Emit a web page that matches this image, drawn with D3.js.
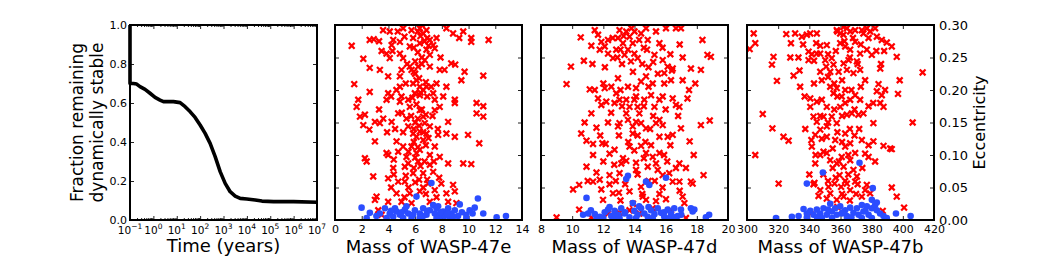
<!doctype html>
<html>
<head>
<meta charset="utf-8"/>
<title>WASP-47 stability</title>
<script src="https://d3js.org/d3.v7.min.js"></script>
<style>
body { margin: 0; background: #fff; }
text { font-family: 'DejaVu Sans', sans-serif; fill: #000; }
</style>
</head>
<body>
<svg id="chart"></svg>
<script>
// ---- data ----
const timeYears = [0.1, 0.1, 0.139, 0.193, 0.268, 0.44, 0.72, 1.18, 1.93, 2.7, 7.2, 13.9, 22.8, 37, 61, 100,
    164, 268, 440, 720, 1180, 1930, 3160, 5180, 1e4, 22800, 44000, 1.4e5, 1e6, 1e7]
const fractionStable = [1.0, 0.70, 0.70, 0.697, 0.684, 0.67, 0.65, 0.629, 0.615, 0.607, 0.607, 0.602, 0.581,
    0.556, 0.526, 0.487, 0.444, 0.393, 0.325, 0.248, 0.188, 0.145, 0.123, 0.111, 0.108, 0.103, 0.097, 0.094, 0.094, 0.091]

const timeTicks = [-1, 0, 1, 2, 3, 4, 5, 6, 7]   // exponents
const fractionTicks = [0, 0.2, 0.4, 0.6, 0.8, 1.0]
const eccTicks = [0, 0.05, 0.10, 0.15, 0.20, 0.25, 0.30]

// [mass, eccentricity]; unstable = red x, stable = blue dots
const eUnstable = [[1.25,.268],[2.12,.248],[2.6,.234],[2.6,.277],[2.9,.278],[3.6,.292],[4.1,.29],[4.36,.277],[3.49,.26],
    [3.86,.256],[4.24,.269],[4.86,.274],[5.1,.295],[5.2,.282],[5.73,.292],[5.85,.28],[6.35,.295],[6.6,.287],[6.85,.292],
    [7.1,.277],[7.35,.269],[6.35,.272],[6.85,.262],[7.1,.254],[6.72,.246],[7.1,.236],[7.47,.264],[5.6,.267],[4.86,.256],
    [5.1,.249],[4.1,.249],[8.34,.295],[8.84,.287],[9.3,.28],[9.6,.29],[10.2,.28],[10.2,.274],[11.5,.277],[8.7,.241],
    [9.0,.239],[7.84,.231],[8.2,.231],[9.7,.228],[9.46,.215],[11.1,.222],[3.36,.231],[3.98,.221],[4.98,.231],[4.86,.221],
    [5.73,.231],[6.22,.236],[6.1,.215],[5.85,.21],[6.35,.205],[4.86,.205],[3.98,.195],[3.86,.185],[2.6,.197],[1.44,.209],
    [1.74,.185],[1.62,.174],[1.87,.159],[2.24,.162],[2.12,.146],[2.57,.139],[2.99,.151],[3.36,.149],[3.61,.156],[4.24,.151],
    [4.73,.164],[4.86,.182],[4.98,.19],[5.48,.185],[5.6,.174],[5.35,.156],[5.48,.144],[5.98,.195],[6.35,.192],[6.85,.205],
    [7.35,.195],[7.47,.185],[7.6,.21],[8.34,.205],[7.84,.174],[7.47,.169],[6.35,.169],[6.6,.159],[6.72,.149],[7.1,.144],
    [6.35,.136],[5.85,.133],[6.85,.133],[7.72,.131],[8.47,.151],[8.97,.185],[8.97,.18],[8.34,.133],[8.97,.128],[10.6,.18],
    [11.1,.175],[10.6,.164],[11.1,.159],[9.96,.131],[10.8,.118],[4.61,.121],[5.1,.113],[5.73,.113],[6.35,.108],[6.1,.103],
    [6.6,.123],[7.47,.113],[7.84,.097],[3.86,.103],[3.98,.1],[2.24,.095],[2.37,.09],[2.99,.121],[4.73,.105],[5.35,.097],
    [5.48,.087],[6.22,.09],[7.1,.085],[8.47,.087],[9.6,.087],[10.2,.086],[4.36,.08],[3.98,.064],[2.86,.067],[4.73,.059],
    [5.23,.059],[5.85,.072],[6.6,.072],[7.35,.074],[6.97,.056],[7.96,.056],[8.84,.054],[8.97,.044],[8.34,.041],[3.11,.036],
    [2.99,.031],[3.98,.028],[4.98,.028],[5.73,.026],[5.6,.041],[6.35,.044],[7.47,.046],[8.47,.028],[9.09,.026],[3.24,.015],
    [3.49,.008],[7.1,.028],[4.61,.041],[5.23,.082],[6.1,.128],[6.5,.3],[6.2,.29],[5.9,.265],[6.9,.28],[6.5,.24],[5.4,.24],
    [6.0,.225],[6.6,.2],[6.9,.19],[5.7,.16],[6.0,.15],[6.3,.145],[5.1,.135],[4.5,.14],[6.8,.115],[5.9,.12],[7.1,.1],
    [6.7,.09],[5.9,.08],[6.3,.062],[6.6,.05],[5.5,.05],[7.8,.065],[4.4,.093],[3.9,.135],[3.3,.17],
    [6.4,.283],[6.7,.275],[7.0,.268],[6.2,.258],[6.5,.25],[6.0,.244],[5.6,.236],[5.9,.228],[6.3,.218],[6.8,.212],
    [7.2,.205],[6.4,.196],[5.8,.188],[6.1,.178],[6.5,.17],[6.8,.162],[6.2,.156],[5.9,.14],[6.6,.135],[7.0,.126],
    [6.2,.112],[5.5,.105],[6.0,.096],[6.4,.083],[5.3,.068],[6.0,.058],[6.9,.062],[7.4,.09],[7.7,.14],[7.3,.16],
    [5.0,.165],[4.6,.2],[5.3,.21],[4.3,.26],[3.3,.275],[4.7,.29],[7.6,.28],[7.9,.25],[8.1,.19],[4.2,.19],[4.4,.07],
    [6.8,.04],[7.6,.035],[5.2,.035],[4.2,.05]]
const eStable = [[1.99,.019],[2.61,.011],[2.37,.003],[3.36,.010],[3.74,.018],[4.1,.010],[4.36,.005],[4.61,.013],[4.86,.008],
    [5.23,.016],[5.48,.010],[5.73,.003],[6.1,.036],[5.98,.015],[6.35,.010],[6.6,.018],[6.85,.008],[7.22,.057],[7.1,.015],
    [7.47,.010],[7.72,.021],[7.84,.005],[8.09,.013],[8.47,.018],[8.72,.010],[8.97,.015],[9.34,.024],[9.21,.006],[9.83,.008],
    [10.08,.015],[10.46,.019],[10.7,.033],[10.3,.010],[11.1,.010],[12.1,.004],[12.8,.006],[9.83,.003],[6.35,.003],[5.1,.003],
    [7.6,.003],[8.6,.003],[3.86,.003],[4.49,.018],[5.35,.021],[7.35,.023],[6.6,.006],[8.2,.006],[5.85,.008],[7.6,.018],
    [8.84,.005],[6.9,.014],[7.9,.012],[5.0,.012],[4.2,.014],[3.1,.006],[8.4,.009],[9.5,.012]]

const dUnstable = [[10.55,.281],[11.23,.268],[10.75,.245],[9.92,.236],[9.64,.209],[11.45,.292],[11.66,.285],[11.87,.274],
    [12.09,.267],[12.3,.277],[11.77,.262],[12.3,.256],[12.83,.262],[12.62,.249],[12.94,.28],[13.04,.292],[13.47,.29],
    [13.68,.282],[13.26,.272],[13.89,.272],[13.58,.262],[13.36,.254],[13.99,.256],[13.77,.244],[14.2,.249],[14.42,.287],
    [14.74,.295],[14.85,.277],[15.38,.29],[15.6,.272],[15.28,.254],[16.02,.295],[16.66,.295],[16.98,.295],[15.81,.246],
    [16.13,.236],[16.45,.233],[15.91,.226],[16.34,.215],[17.09,.25],[17.62,.233],[18.26,.231],[18.36,.277],[18.68,.254],
    [18.9,.251],[17.09,.215],[15.91,.21],[14.74,.221],[14.42,.213],[15.17,.21],[15.06,.192],[14.1,.203],[13.58,.205],
    [12.94,.218],[12.83,.195],[12.51,.205],[12.09,.203],[11.13,.201],[11.45,.2],[11.66,.187],[11.87,.177],[11.23,.164],
    [12.19,.182],[12.72,.18],[13.04,.185],[13.47,.185],[13.68,.174],[13.99,.185],[14.2,.174],[14.31,.164],[14.63,.185],
    [15.28,.174],[15.81,.19],[16.45,.187],[16.66,.177],[16.88,.174],[17.4,.187],[17.5,.2],[13.04,.149],[12.94,.144],
    [13.47,.164],[13.58,.154],[13.89,.144],[13.89,.133],[14.1,.151],[14.42,.149],[14.74,.141],[15.38,.149],[15.6,.154],
    [15.81,.146],[15.6,.128],[16.13,.128],[16.45,.131],[16.98,.141],[17.54,.121],[18.26,.146],[18.83,.153],[11.56,.142],
    [10.58,.133],[10.92,.122],[11.34,.117],[11.94,.118],[12.15,.117],[12.72,.108],[12.4,.102],[13.68,.113],[13.99,.107],
    [14.42,.114],[14.74,.103],[15.06,.115],[15.17,.097],[15.6,.103],[15.38,.087],[11.34,.1],[13.26,.095],[13.15,.087],
    [13.47,.091],[10.92,.082],[11.56,.073],[12.4,.069],[13.04,.072],[14.1,.077],[14.85,.082],[15.49,.077],[15.81,.069],
    [16.23,.072],[16.66,.08],[16.88,.087],[16.45,.059],[16.88,.059],[17.62,.059],[17.73,.056],[18.43,.069],[10.45,.054],
    [10.06,.047],[11.34,.059],[11.77,.062],[11.87,.047],[11.98,.031],[12.62,.041],[13.68,.044],[14.42,.051],[14.53,.036],
    [14.74,.031],[15.38,.029],[16.02,.032],[17.09,.036],[17.2,.026],[10.45,.016],[12.3,.01],[13.68,.015],[14.31,.01],
    [15.17,.018],[16.34,.015],[9.0,.004],[11.23,.004],[13.04,.011],[17.3,.003],[13.9,.025],[14.0,.29],[14.6,.265],
    [13.2,.24],[14.9,.235],[15.5,.225],[13.1,.2],[14.6,.175],[15.2,.16],[14.2,.13],[16.8,.16],[12.3,.15],[13.6,.12],
    [14.6,.095],[15.9,.1],[12.7,.085],[14.9,.06],[14.5,.04],[15.8,.05],[12.8,.06],[14.2,.07],[13.1,.03],[16.4,.23],[12.1,.235],
    [13.3,.283],[13.8,.295],[14.3,.277],[14.8,.262],[13.1,.262],[12.6,.28],[12.9,.25],[14.5,.24],[13.9,.228],[15.2,.243],
    [15.8,.265],[16.3,.255],[14.9,.205],[14.1,.19],[13.2,.175],[12.5,.165],[15.6,.185],[16.0,.17],[15.0,.14],[13.0,.13],
    [14.7,.12],[16.3,.115],[12.0,.09],[14.1,.088],[16.1,.09],[13.4,.055],[15.3,.06],[15.6,.04],[13.0,.042],[12.4,.055],
    [16.9,.045],[11.0,.06],[17.3,.08],[17.8,.1],[11.8,.13],[10.8,.15],[12.0,.21],[11.3,.24],[16.9,.27],[17.9,.21]]
const dStable = [[10.92,.034],[13.58,.068],[13.47,.063],[14.74,.059],[14.95,.054],[16.02,.065],[10.7,.008],[11.02,.01],
    [11.45,.009],[11.77,.005],[12.09,.012],[12.3,.016],[12.51,.006],[12.72,.014],[12.94,.008],[13.15,.018],[13.36,.01],
    [13.68,.004],[13.89,.026],[13.99,.014],[14.2,.008],[14.42,.018],[14.63,.01],[14.85,.005],[15.06,.015],[15.28,.009],
    [15.49,.018],[15.7,.011],[15.91,.005],[16.13,.016],[16.34,.01],[16.55,.018],[16.77,.006],[16.98,.016],[17.62,.018],
    [17.73,.013],[17.84,.016],[18.58,.004],[18.79,.008],[12.0,.003],[13.04,.003],[14.1,.003],[15.17,.003],[16.23,.003],
    [11.56,.003],[14.3,.021],[12.8,.005],[13.4,.012],[14.9,.02],[15.9,.012],[12.4,.02],[16.6,.004],[17.0,.008],[11.2,.015]]

const bUnstable = [[304.3,.287],[305.3,.272],[301.7,.263],[316,.239],[317,.251],[319.2,.214],[325.2,.286],[328.2,.272],
    [327.8,.25],[330.9,.287],[329.9,.222],[333.7,.23],[334.1,.205],[335.2,.282],[338.4,.285],[340.6,.287],[344.8,.287],
    [339.5,.259],[341.6,.255],[344.8,.256],[346.9,.256],[339.5,.246],[344.4,.272],[351.2,.269],[350.2,.246],[350.8,.236],
    [354.4,.249],[355.5,.239],[353.4,.228],[357.6,.292],[359.8,.287],[361.9,.285],[364.1,.295],[366.2,.29],[369.4,.292],
    [373.7,.292],[376.9,.295],[379.0,.29],[382.2,.295],[359.8,.272],[363,.267],[366.2,.262],[369.4,.274],[372.6,.256],
    [376.9,.262],[370.5,.244],[365.2,.246],[362,.241],[358.8,.228],[364.1,.231],[368.3,.226],[372.6,.231],[375.8,.215],
    [380.1,.254],[383.3,.282],[386.5,.277],[389.7,.273],[392.9,.267],[396.1,.251],[385.5,.233],[384.4,.209],[383.3,.198],
    [386.5,.192],[385.5,.18],[387.6,.174],[398,.215],[396.9,.194],[412.7,.227],[406.3,.15],[340.6,.187],[340.6,.174],
    [344.8,.182],[348,.185],[342.7,.159],[344.8,.151],[349.1,.159],[351.2,.174],[353.4,.205],[355.5,.195],[357.6,.203],
    [360.8,.19],[359.8,.174],[363,.2],[366.2,.185],[369.4,.192],[372.6,.185],[374.7,.164],[371.5,.162],[367.3,.164],
    [364.1,.162],[357.6,.149],[354.4,.159],[351.2,.144],[347,.139],[343.8,.131],[337.4,.14],[341.3,.123],[341.6,.113],
    [351.2,.128],[356.6,.123],[363,.133],[363,.113],[366.2,.118],[369.4,.103],[373.7,.123],[381.1,.121],[381.1,.149],
    [375.8,.102],[378.0,.097],[382.2,.09],[387.6,.114],[392.9,.109],[391.9,.11],[347,.1],[349.1,.105],[351.2,.103],
    [353.4,.092],[343.8,.087],[357.6,.087],[360.8,.097],[362,.082],[366.2,.092],[368.3,.077],[359.4,.069],[356.2,.056],
    [360.4,.051],[364.1,.056],[366.2,.046],[369.4,.059],[370.5,.067],[352.3,.051],[353.4,.041],[347,.046],[342.7,.055],
    [345.9,.037],[362,.036],[357.6,.031],[351.2,.033],[375.8,.046],[376.9,.054],[379.0,.041],[373.7,.036],[305.3,.1],
    [310.1,.163],[316.3,.141],[323.4,.128],[326.7,.122],[320.3,.056],[343.3,.057],[392.9,.05],[396.1,.036],[400.8,.019],
    [387.1,.014],[340.6,.01],[388.6,.2],[374.7,.287],[362.5,.275],[356,.21],[348,.215],[361,.16],[358,.135],[365,.1],
    [372,.14],[355,.08],[363,.06],[358,.02],[349,.07],[370,.04],[343,.21],[337,.19],[378,.175],
    [358,.29],[362,.297],[368,.28],[373,.27],[378,.28],[383,.26],[366,.25],[371,.24],[357,.26],[352,.255],[347,.268],
    [343,.245],[347,.228],[352,.22],[361,.215],[367,.2],[373,.205],[358,.19],[363,.18],[369,.17],[356,.17],[352,.15],
    [347,.16],[366,.14],[369,.13],[361,.12],[355,.11],[359,.09],[365,.07],[357,.065],[352,.06],[361,.04],[366,.03],
    [371,.055],[374,.08],[378,.115],[348,.125],[344,.1],[340,.07],[386,.24],[388,.26],[381,.18],[336,.27],[333,.25]]
const bStable = [[318.6,.003],[328.8,.005],[333.1,.006],[338.4,.056],[348.7,.073],[372.2,.088],[380.7,.049],[336.3,.017],
    [340.6,.014],[342.7,.008],[344.8,.016],[347,.01],[349.1,.018],[351.2,.008],[353.4,.025],[354.4,.013],[356.6,.018],
    [357.6,.008],[359.8,.021],[360.8,.01],[363,.015],[364.1,.006],[366.2,.019],[368.3,.011],[370.5,.018],[371.6,.008],
    [373.7,.023],[374.7,.013],[376.9,.021],[378,.008],[380.1,.031],[380.1,.018],[382.2,.023],[383.3,.015],[385.4,.01],
    [387.6,.006],[389.7,.003],[395.6,.01],[405.0,.006],[338.4,.004],[348,.003],[354.6,.003],[364.2,.003],[373.7,.003],
    [380.1,.003],[383.3,.027],[338.4,.01],[361.5,.012],[367,.004],[352,.016],[376,.014],[345,.004]]

const massPanels = [
    {label: 'Mass of WASP-47e', domain: [0, 14], ticks: [0, 2, 4, 6, 8, 10, 12, 14], red: eUnstable, blue: eStable},
    {label: 'Mass of WASP-47d', domain: [8, 20], ticks: [8, 10, 12, 14, 16, 18, 20], red: dUnstable, blue: dStable},
    {label: 'Mass of WASP-47b', domain: [300, 420], ticks: [300, 320, 340, 360, 380, 400, 420], red: bUnstable, blue: bStable},
]

// ---- layout ----
const width = 1038
const height = 260
const panelLeft = [130, 335, 541, 747]
const pw = 187
const plotTop = 25
const plotBottom = 220
const ph = plotBottom - plotTop

const svg = d3.select('#chart')
    .attr('width', width)
    .attr('height', height)

function frame(g) {
    g.append('rect')
        .attr('x', 0).attr('y', 0)
        .attr('width', pw).attr('height', ph)
        .attr('fill', 'none')
        .attr('stroke', '#000')
        .attr('stroke-width', 2)
}

function styleAxis(a, size) {
    a.select('.domain').remove()
    a.selectAll('.tick line').attr('stroke', '#222').attr('stroke-width', 1)
    a.selectAll('.tick text').attr('font-size', size).attr('font-family', 'DejaVu Sans').attr('fill', '#000')
}

// ---- panel 1: fraction stable vs time ----
{
    const g = svg.append('g').attr('transform', `translate(${panelLeft[0]},${plotTop})`)
    const x = d3.scaleLog().domain([0.1, 1e7]).range([0, pw])
    const y = d3.scaleLinear().domain([0, 1]).range([ph, 0])

    const majors = timeTicks.map(p => Math.pow(10, p))
    const minors = []
    for (let p = -1; p < 7; p++) for (let k = 2; k < 10; k++) minors.push(k * Math.pow(10, p))

    g.append('g').attr('transform', `translate(0,${ph})`)
        .call(d3.axisBottom(x).tickValues(minors).tickSize(-2).tickFormat(''))
        .call(a => styleAxis(a, 10))
    g.append('g')
        .call(d3.axisTop(x).tickValues(minors).tickSize(-2).tickFormat(''))
        .call(a => styleAxis(a, 10))
    g.append('g').attr('transform', `translate(0,${ph})`)
        .call(d3.axisBottom(x).tickValues(majors).tickSize(-4).tickFormat(''))
        .call(a => styleAxis(a, 10))
    g.append('g')
        .call(d3.axisTop(x).tickValues(majors).tickSize(-4).tickFormat(''))
        .call(a => styleAxis(a, 10))

    // 10^n labels
    const lab = g.append('g')
    timeTicks.forEach(p => {
        const t = lab.append('text')
            .attr('x', x(Math.pow(10, p)))
            .attr('y', ph + 14)
            .attr('text-anchor', 'middle')
            .attr('font-size', 10.5)
        t.append('tspan').text('10')
        t.append('tspan').attr('dy', -5).attr('font-size', 7.5).text(p < 0 ? '\u2212' + (-p) : String(p))
    })

    g.append('g')
        .call(d3.axisLeft(y).tickValues(fractionTicks).tickSize(-4).tickPadding(3).tickFormat(d3.format('.1f')))
        .call(a => styleAxis(a, 11))
    g.append('g').attr('transform', `translate(${pw},0)`)
        .call(d3.axisRight(y).tickValues(fractionTicks).tickSize(-4).tickFormat(''))
        .call(a => styleAxis(a, 11))

    const pts = timeYears.map((t, i) => [t, fractionStable[i]])
    g.append('path')
        .datum(pts)
        .attr('d', d3.line().x(d => x(d[0])).y(d => y(d[1])))
        .attr('fill', 'none')
        .attr('stroke', '#000')
        .attr('stroke-width', 3.6)
        .attr('stroke-linejoin', 'round')

    frame(g)

    svg.append('text')
        .attr('x', panelLeft[0] + pw / 2).attr('y', 252)
        .attr('text-anchor', 'middle').attr('font-size', 18)
        .text('Time (years)')

    const yl = svg.append('text')
        .attr('transform', `translate(83,${(plotTop + plotBottom) / 2}) rotate(-90)`)
        .attr('text-anchor', 'middle').attr('font-size', 17)
    yl.append('tspan').attr('x', 0).attr('y', 0).text('Fraction remaining')
    yl.append('tspan').attr('x', 0).attr('y', 20).text('dynamically stable')
}

// ---- panels 2-4: eccentricity vs mass ----
const defs = svg.append('defs')
massPanels.forEach((p, i) => {
    const left = panelLeft[i + 1]
    const g = svg.append('g').attr('transform', `translate(${left},${plotTop})`)
    const x = d3.scaleLinear().domain(p.domain).range([0, pw])
    const y = d3.scaleLinear().domain([0, 0.3]).range([ph, 0])

    defs.append('clipPath').attr('id', 'clip' + i)
        .append('rect').attr('width', pw).attr('height', ph)

    g.append('g').attr('transform', `translate(0,${ph})`)
        .call(d3.axisBottom(x).tickValues(p.ticks).tickSize(-4).tickPadding(5).tickFormat(d3.format('d')))
        .call(a => styleAxis(a, 11))
    g.append('g')
        .call(d3.axisTop(x).tickValues(p.ticks).tickSize(-4).tickFormat(''))
        .call(a => styleAxis(a, 11))
    g.append('g')
        .call(d3.axisLeft(y).tickValues(eccTicks).tickSize(-4).tickFormat(''))
        .call(a => styleAxis(a, 11))
    g.append('g').attr('transform', `translate(${pw},0)`)
        .call(d3.axisRight(y).tickValues(eccTicks).tickSize(-4).tickPadding(5)
            .tickFormat(i === 2 ? d3.format('.2f') : ''))
        .call(a => styleAxis(a, 13))

    const pts = g.append('g').attr('clip-path', `url(#clip${i})`)
    const s = 2.9
    pts.selectAll('path.x')
        .data(p.red)
        .join('path')
        .attr('class', 'x')
        .attr('d', d => {
            const cx = x(d[0]), cy = y(d[1])
            return `M${cx - s},${cy - s}L${cx + s},${cy + s}M${cx - s},${cy + s}L${cx + s},${cy - s}`
        })
        .attr('stroke', '#ff0000')
        .attr('stroke-width', 2.2)
        .attr('fill', 'none')
    pts.selectAll('circle')
        .data(p.blue)
        .join('circle')
        .attr('cx', d => x(d[0]))
        .attr('cy', d => y(d[1]))
        .attr('r', 3.3)
        .attr('fill', '#2b4dff')

    frame(g)

    svg.append('text')
        .attr('x', left + pw / 2).attr('y', 253)
        .attr('text-anchor', 'middle').attr('font-size', 18)
        .text(p.label)
})

svg.append('text')
    .attr('transform', `translate(985,${(plotTop + plotBottom) / 2}) rotate(-90)`)
    .attr('text-anchor', 'middle').attr('font-size', 16)
    .text('Eccentricity')
</script>
</body>
</html>
